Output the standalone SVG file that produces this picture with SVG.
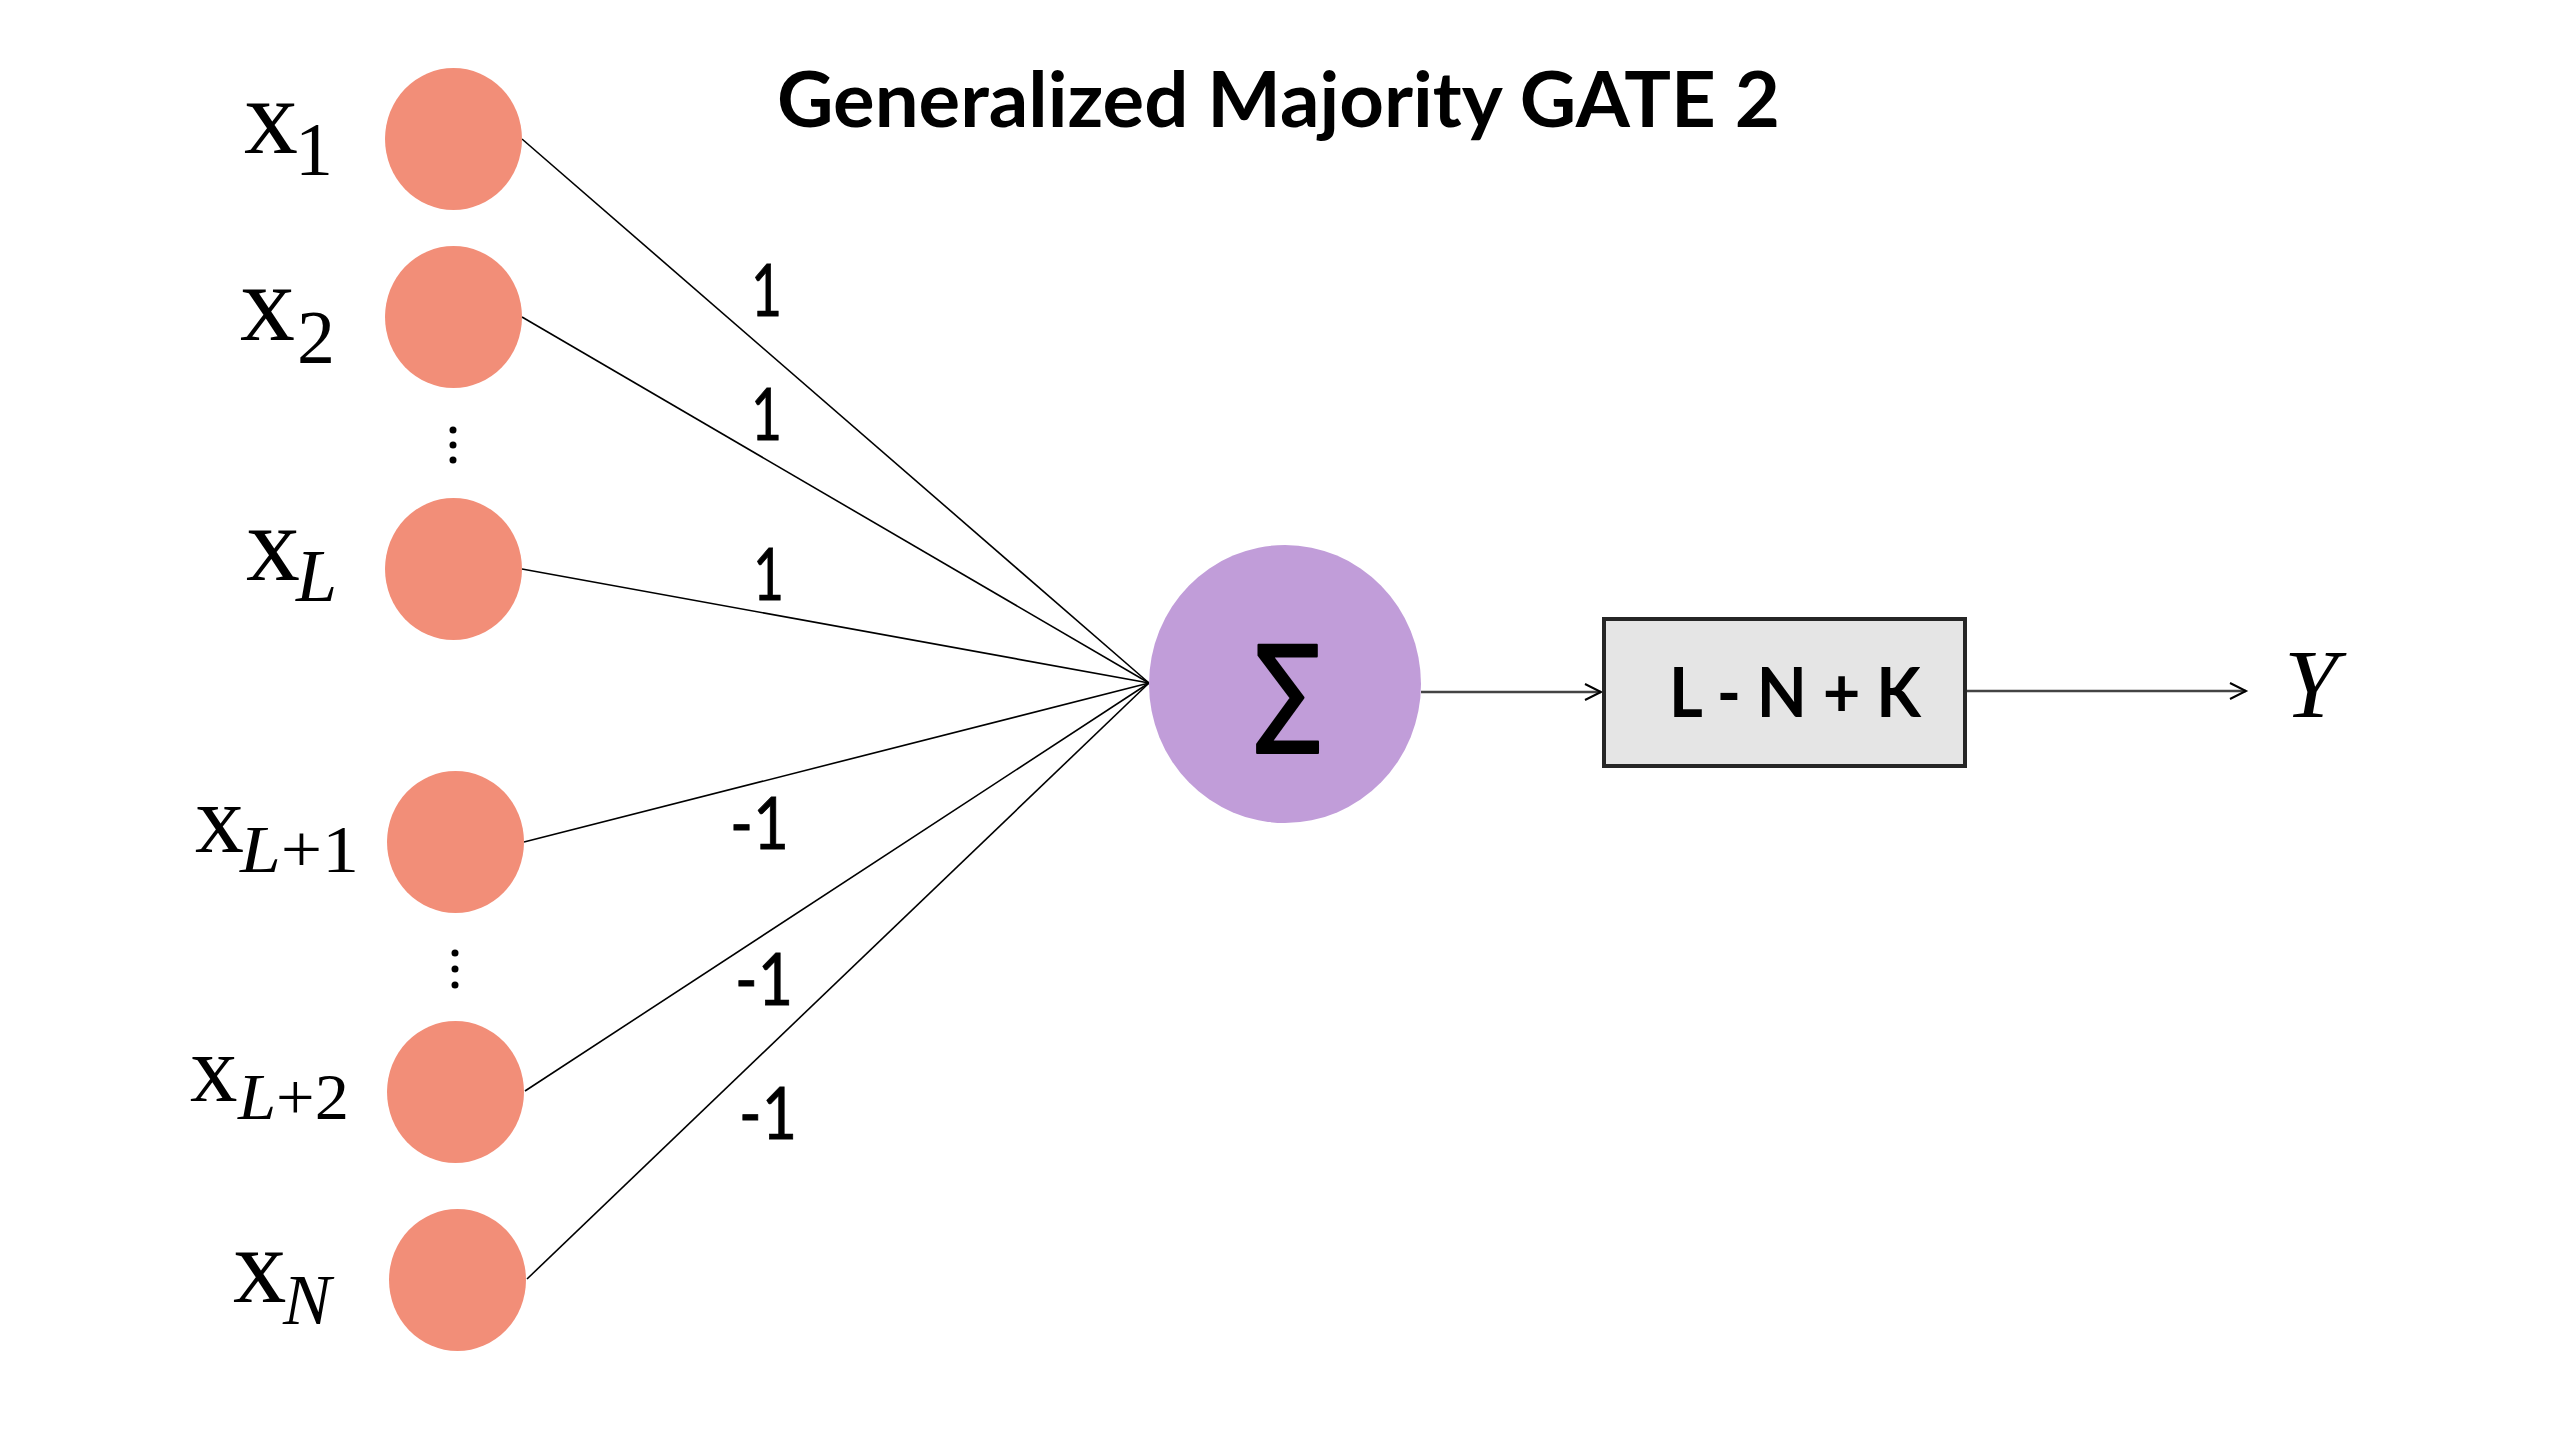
<svg xmlns="http://www.w3.org/2000/svg" width="2560" height="1440" viewBox="0 0 2560 1440">
<style>
.inp{fill:#F28E78}
.sum{fill:#C19DD9}
.box{fill:#E5E5E5;stroke:#262626;stroke-width:4}
.conn{stroke:#000;stroke-width:1.6;fill:none}
.out{stroke:#444;stroke-width:2.5;fill:none}
.var{font-family:"Liberation Serif","Times New Roman",serif;fill:#000}
.it{font-style:italic}
.w{font-family:Lato,"Open Sans",sans-serif;font-size:71px;fill:#000;stroke:#000;stroke-width:0.8}
.title{font-family:Lato,"Open Sans",sans-serif;font-weight:bold;font-size:76px;fill:#000}
.dot{fill:#000}
</style>
<defs>
<marker id="arr" markerUnits="userSpaceOnUse" markerWidth="30" markerHeight="30" refX="20" refY="12" orient="auto">
<path d="M4,4 L20,12 L4,20" fill="none" stroke="#000" stroke-width="2"/>
</marker>
</defs>
<rect width="2560" height="1440" fill="#fff"/>
<text class="title" x="777" y="127" textLength="1003" lengthAdjust="spacingAndGlyphs">Generalized Majority GATE 2</text>
<g id="connectors">
<line class="conn" x1="522" y1="139" x2="1149" y2="683"/>
<line class="conn" x1="522" y1="317" x2="1149" y2="683"/>
<line class="conn" x1="522" y1="569" x2="1149" y2="683"/>
<line class="conn" x1="524" y1="842" x2="1149" y2="683"/>
<line class="conn" x1="525" y1="1091" x2="1149" y2="683"/>
<line class="conn" x1="527" y1="1279" x2="1149" y2="683"/>
<line class="out" x1="1421" y1="692" x2="1601" y2="692" marker-end="url(#arr)"/>
<line class="out" x1="1967" y1="691" x2="2246" y2="691" marker-end="url(#arr)"/>
<text class="w" x="751" y="316" textLength="31" lengthAdjust="spacingAndGlyphs">1</text>
<text class="w" x="751" y="440" textLength="31" lengthAdjust="spacingAndGlyphs">1</text>
<text class="w" x="753" y="600" textLength="31" lengthAdjust="spacingAndGlyphs">1</text>
<text class="w" x="730" y="849" textLength="59" lengthAdjust="spacingAndGlyphs">-1</text>
<text class="w" x="735" y="1005" textLength="58" lengthAdjust="spacingAndGlyphs">-1</text>
<text class="w" x="739" y="1139" textLength="58" lengthAdjust="spacingAndGlyphs">-1</text>
</g>
<g id="x1">
<ellipse class="inp" cx="453.5" cy="139" rx="68.5" ry="71"/>
<text class="var" x="244" y="153" font-size="108">x</text>
<text class="var" x="295" y="175" font-size="76">1</text>
</g>
<g id="x2">
<ellipse class="inp" cx="453.5" cy="317" rx="68.5" ry="71"/>
<text class="var" x="240" y="340" font-size="110">x</text>
<text class="var" x="297" y="363" font-size="76">2</text>
</g>
<g id="dots1">
<circle class="dot" cx="453" cy="430" r="3.5"/>
<circle class="dot" cx="453" cy="445" r="3.5"/>
<circle class="dot" cx="453" cy="460" r="3.5"/>
</g>
<g id="xL">
<ellipse class="inp" cx="453.5" cy="569" rx="68.5" ry="71"/>
<text class="var" x="246" y="580" font-size="108">x</text>
<text class="var it" x="296" y="601" font-size="74">L</text>
</g>
<g id="xL1">
<ellipse class="inp" cx="455.5" cy="842" rx="68.5" ry="71"/>
<text class="var" x="195" y="852" font-size="98">x</text>
<text class="var" x="240" y="872" font-size="68" textLength="119" lengthAdjust="spacingAndGlyphs"><tspan class="it">L</tspan>+1</text>
</g>
<g id="dots2">
<circle class="dot" cx="455" cy="953" r="3.5"/>
<circle class="dot" cx="455" cy="969" r="3.5"/>
<circle class="dot" cx="455" cy="985" r="3.5"/>
</g>
<g id="xL2">
<ellipse class="inp" cx="455.5" cy="1092" rx="68.5" ry="71"/>
<text class="var" x="190" y="1101" font-size="95">x</text>
<text class="var" x="238" y="1119" font-size="66" textLength="111" lengthAdjust="spacingAndGlyphs"><tspan class="it">L</tspan>+2</text>
</g>
<g id="xN">
<ellipse class="inp" cx="457.5" cy="1280" rx="68.5" ry="71"/>
<text class="var" x="233" y="1302" font-size="107">x</text>
<text class="var it" x="283" y="1324" font-size="72">N</text>
</g>
<g id="sum">
<ellipse class="sum" cx="1285" cy="684" rx="136" ry="139"/>
<text x="1256" y="730" font-family="DejaVu Sans,sans-serif" font-size="118" textLength="64" lengthAdjust="spacingAndGlyphs" fill="#000" stroke="#000" stroke-width="2.5" stroke-linejoin="round">∑</text>
</g>
<g id="threshold">
<rect class="box" x="1604" y="619" width="361" height="147"/>
<text x="1669" y="717" font-family="Lato,'Open Sans',sans-serif" font-weight="bold" font-size="68" textLength="252" lengthAdjust="spacingAndGlyphs" fill="#000">L - N + K</text>
</g>
<g id="Y">
<text class="var it" x="2284" y="717" font-size="97">Y</text>
</g>
</svg>
